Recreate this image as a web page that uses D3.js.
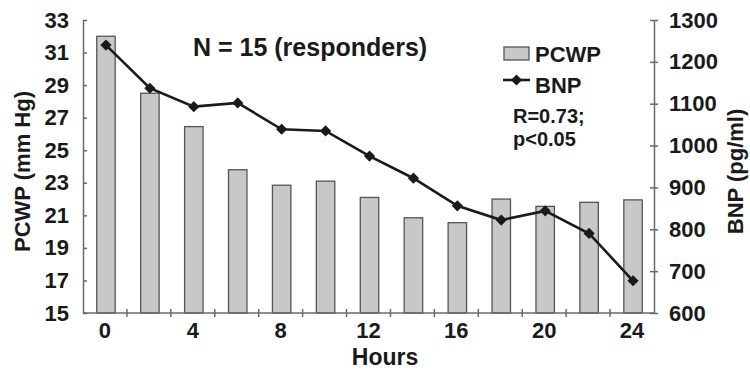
<!DOCTYPE html>
<html>
<head>
<meta charset="utf-8">
<script src="https://cdn.jsdelivr.net/npm/d3@7"></script>
<style>
  body { margin: 0; background: #fff; }
  svg { display: block; font-family: "Liberation Sans", Arial, sans-serif; font-weight: bold; }
</style>
</head>
<body>
<svg id="chart" width="750" height="370"></svg>
<script>
// chart data
const hours = [0, 2, 4, 6, 8, 10, 12, 14, 16, 18, 20, 22, 24];
const hourLabels = ['0', '', '4', '', '8', '', '12', '', '16', '', '20', '', '24'];
const pcwp = [32.0, 28.5, 26.45, 23.8, 22.85, 23.1, 22.1, 20.85, 20.55, 22.0, 21.55, 21.8, 21.95];
const bnp = [1240, 1137, 1093, 1102, 1039, 1035, 975, 922, 856, 822, 844, 790, 677];
const leftTicks = [15, 17, 19, 21, 23, 25, 27, 29, 31, 33];
const rightTicks = [600, 700, 800, 900, 1000, 1100, 1200, 1300];

const svg = d3.select('#chart');
const margin = { left: 83, right: 96, top: 20, bottom: 57 };
const width = 750, height = 370;
const x0 = margin.left, x1 = width - margin.right;
const yTop = margin.top, yBot = height - margin.bottom;

const x = d3.scaleBand().domain(hours).range([x0, x1]).paddingInner(0).paddingOuter(0);
const yL = d3.scaleLinear().domain([15, 33]).range([yBot, yTop]);
const yR = d3.scaleLinear().domain([600, 1300]).range([yBot, yTop]);

const axisColor = '#6a6a6a';
const barW = x.bandwidth() * 0.42;

// bars
svg.append('g')
  .selectAll('rect')
  .data(hours)
  .enter().append('rect')
  .attr('x', (d, i) => x(d) + x.bandwidth() / 2 - barW / 2 + 1)
  .attr('y', (d, i) => yL(pcwp[i]))
  .attr('width', barW)
  .attr('height', (d, i) => yBot - yL(pcwp[i]))
  .attr('fill', '#c8c8c8')
  .attr('stroke', '#555')
  .attr('stroke-width', 1.3);

// left axis
const leftAxis = svg.append('g')
  .attr('transform', `translate(${x0},0)`)
  .call(d3.axisLeft(yL).tickValues(leftTicks).tickSizeInner(4).tickSizeOuter(0).tickPadding(10));
leftAxis.selectAll('.tick line').attr('x2', 4);

// right axis
const rightAxis = svg.append('g')
  .attr('transform', `translate(${x1},0)`)
  .call(d3.axisRight(yR).tickValues(rightTicks).tickFormat(d3.format('d'))
    .tickSizeInner(4).tickSizeOuter(0).tickPadding(11));
rightAxis.selectAll('.tick line').attr('x2', -4).attr('x1', 4);

// bottom axis: ticks at band edges, labels at band centres
const bottom = svg.append('g').attr('transform', `translate(0,${yBot})`);
bottom.append('line').attr('x1', x0).attr('x2', x1).attr('stroke', axisColor).attr('stroke-width', 1.5);
bottom.selectAll('.edge')
  .data(hours.slice(1))
  .enter().append('line')
  .attr('x1', d => x(d)).attr('x2', d => x(d))
  .attr('y1', -4).attr('y2', 4)
  .attr('stroke', axisColor).attr('stroke-width', 1.5);
bottom.selectAll('.lab')
  .data(hours)
  .enter().append('text')
  .attr('x', d => x(d) + x.bandwidth() / 2)
  .attr('y', 25)
  .attr('text-anchor', 'middle')
  .attr('font-size', 22)
  .attr('fill', '#1a1a1a')
  .text((d, i) => hourLabels[i]);

[leftAxis, rightAxis].forEach(g => {
  g.select('.domain').attr('stroke', axisColor).attr('stroke-width', 1.5);
  g.selectAll('.tick line').attr('stroke', axisColor).attr('stroke-width', 1.5);
  g.selectAll('.tick text')
    .attr('font-size', 22)
    .attr('font-family', '"Liberation Sans", Arial, sans-serif')
    .attr('font-weight', 'bold')
    .attr('fill', '#1a1a1a');
});

// BNP line
const cx = (d, i) => x(hours[i]) + x.bandwidth() / 2 + 1;
const line = d3.line().x((d, i) => cx(d, i)).y(d => yR(d));
svg.append('path')
  .datum(bnp)
  .attr('d', line)
  .attr('fill', 'none')
  .attr('stroke', '#1a1a1a')
  .attr('stroke-width', 2.6);

const diamond = d3.symbol().type(d3.symbolDiamond2).size(80);
svg.append('g')
  .selectAll('path')
  .data(bnp)
  .enter().append('path')
  .attr('d', diamond)
  .attr('transform', (d, i) => `translate(${cx(d, i)},${yR(d)})`)
  .attr('fill', '#1a1a1a');

// axis titles
svg.append('text')
  .attr('transform', `translate(30,${(yTop + yBot) / 2 + 5}) rotate(-90)`)
  .attr('text-anchor', 'middle')
  .attr('font-size', 22)
  .attr('fill', '#1a1a1a')
  .text('PCWP (mm Hg)');

svg.append('text')
  .attr('transform', `translate(743,${(yTop + yBot) / 2 + 5}) rotate(-90)`)
  .attr('text-anchor', 'middle')
  .attr('font-size', 22)
  .attr('fill', '#1a1a1a')
  .text('BNP (pg/ml)');

svg.append('text')
  .attr('x', 385)
  .attr('y', 365)
  .attr('text-anchor', 'middle')
  .attr('font-size', 23)
  .attr('fill', '#1a1a1a')
  .text('Hours');

// annotation
svg.append('text')
  .attr('x', 193)
  .attr('y', 56)
  .attr('font-size', 25)
  .attr('fill', '#1a1a1a')
  .text('N = 15 (responders)');

// legend
const legend = svg.append('g');
legend.append('rect')
  .attr('x', 504).attr('y', 47).attr('width', 25).attr('height', 13)
  .attr('fill', '#c8c8c8').attr('stroke', '#555').attr('stroke-width', 1.3);
legend.append('text').attr('x', 535).attr('y', 62).attr('font-size', 22).attr('fill', '#1a1a1a').text('PCWP');
legend.append('line')
  .attr('x1', 503).attr('x2', 530).attr('y1', 80).attr('y2', 80)
  .attr('stroke', '#1a1a1a').attr('stroke-width', 2.6);
legend.append('path')
  .attr('d', diamond)
  .attr('transform', 'translate(516.5,80)')
  .attr('fill', '#1a1a1a');
legend.append('text').attr('x', 535).attr('y', 93).attr('font-size', 22).attr('fill', '#1a1a1a').text('BNP');
legend.append('text').attr('x', 513).attr('y', 123).attr('font-size', 20).attr('fill', '#1a1a1a').text('R=0.73;');
legend.append('text').attr('x', 513).attr('y', 146).attr('font-size', 20).attr('fill', '#1a1a1a').text('p<0.05');
</script>
</body>
</html>
